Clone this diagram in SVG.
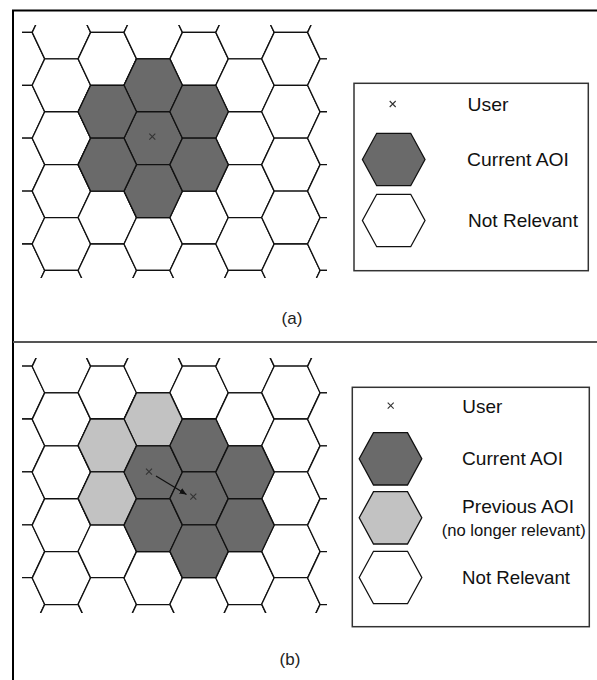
<svg xmlns="http://www.w3.org/2000/svg" xmlns:xlink="http://www.w3.org/1999/xlink" width="597" height="680" viewBox="0 0 597 680">
<defs>
<style>
.grid{fill:#fff;stroke:#111;stroke-width:1.3;stroke-linejoin:miter}
.dark{fill:#6a6a6a;stroke:#111;stroke-width:1.3}
.light{fill:#c2c2c2;stroke:#111;stroke-width:1.3}
.lbl{font-family:"Liberation Sans",Arial,sans-serif;font-size:19px;fill:#111}
.small{font-size:16.5px}
.cap{font-family:"Liberation Sans",Arial,sans-serif;font-size:17px;fill:#222;text-anchor:middle}
.mark{stroke:#333;stroke-width:1.1;fill:none}
.legend{fill:none;stroke:#333;stroke-width:1.5}
.frame{fill:none;stroke:#000;stroke-width:2}
.divider{stroke:#555;stroke-width:2}
.arrow{stroke:#111;stroke-width:1.2;fill:none}
</style>
<polygon id="hex" points="-29.2,0 -16.7,-26.45 16.7,-26.45 29.2,0 16.7,26.45 -16.7,26.45"/>
<polygon id="lhex" points="-31.3,0 -17,-26.2 17,-26.2 31.3,0 17,26.2 -17,26.2"/>
<path id="xm" d="M-3,-3L3,3M-3,3L3,-3"/>
<g id="col">
<use href="#hex" y="0"/>
<use href="#hex" y="52.9"/>
<use href="#hex" y="105.8"/>
<use href="#hex" y="158.7"/>
<use href="#hex" y="211.6"/>
<use href="#hex" y="264.5"/>
</g>
<clipPath id="clipA"><rect x="22" y="25" width="305" height="253"/></clipPath>
<clipPath id="clipB"><rect x="22" y="358" width="305" height="255"/></clipPath>
<marker id="ah" markerWidth="8" markerHeight="8" refX="7" refY="4" orient="auto" markerUnits="userSpaceOnUse"><path d="M0,0.8 L7,4 L0,7.2 Z" fill="#111"/></marker>
</defs>
<rect x="0" y="0" width="597" height="680" fill="#fff"/>

<g id="frame">
<path class="frame" d="M13,680 V10.5 H597"/>
<line class="divider" x1="13" y1="342" x2="597" y2="342"/>
</g>

<g id="panel-a">
<g id="grid-a" clip-path="url(#clipA)" class="grid">
<use href="#col" x="15.5" y="5.95"/>
<use href="#col" x="61.4" y="32.4"/>
<use href="#col" x="107.3" y="5.95"/>
<use href="#col" x="153.2" y="32.4"/>
<use href="#col" x="199.1" y="5.95"/>
<use href="#col" x="245.0" y="32.4"/>
<use href="#col" x="290.9" y="5.95"/>
<use href="#col" x="336.8" y="32.4"/>
</g>
<g id="aoi-a" class="dark">
<use href="#hex" x="153.2" y="85.3"/>
<use href="#hex" x="153.2" y="138.2"/>
<use href="#hex" x="153.2" y="191.1"/>
<use href="#hex" x="107.3" y="111.75"/>
<use href="#hex" x="107.3" y="164.65"/>
<use href="#hex" x="199.1" y="111.75"/>
<use href="#hex" x="199.1" y="164.65"/>
</g>
<g id="user-a"><use href="#xm" class="mark" x="152.3" y="136.7"/></g>
<text class="cap" x="292" y="324">(a)</text>
</g>

<g id="legend-a">
<rect class="legend" x="354" y="83.3" width="234.3" height="187.4"/>
<g id="legend-a-user"><use href="#xm" class="mark" x="392.7" y="104"/><text class="lbl" x="467.5" y="111" textLength="41" lengthAdjust="spacingAndGlyphs">User</text></g>
<g id="legend-a-current"><use href="#lhex" class="dark" x="393.7" y="159.5"/><text class="lbl" x="467" y="166" textLength="102" lengthAdjust="spacingAndGlyphs">Current AOI</text></g>
<g id="legend-a-notrel"><use href="#lhex" class="grid" x="393.7" y="220.5"/><text class="lbl" x="468" y="226.5" textLength="110" lengthAdjust="spacingAndGlyphs">Not Relevant</text></g>
</g>

<g id="panel-b">
<g id="grid-b" clip-path="url(#clipB)" class="grid">
<use href="#col" x="15.5" y="339.65"/>
<use href="#col" x="61.4" y="366.5"/>
<use href="#col" x="107.3" y="339.65"/>
<use href="#col" x="153.2" y="366.5"/>
<use href="#col" x="199.1" y="339.65"/>
<use href="#col" x="245.0" y="366.5"/>
<use href="#col" x="290.9" y="339.65"/>
<use href="#col" x="336.8" y="366.5"/>
</g>
<g id="prev-aoi-b" class="light">
<use href="#hex" x="153.2" y="419.4"/>
<use href="#hex" x="107.3" y="445.45"/>
<use href="#hex" x="107.3" y="498.35"/>
</g>
<g id="aoi-b" class="dark">
<use href="#hex" x="153.2" y="472.3"/>
<use href="#hex" x="153.2" y="525.2"/>
<use href="#hex" x="199.1" y="445.45"/>
<use href="#hex" x="199.1" y="498.35"/>
<use href="#hex" x="199.1" y="551.25"/>
<use href="#hex" x="245.0" y="472.3"/>
<use href="#hex" x="245.0" y="525.2"/>
</g>
<g id="user-b-old"><use href="#xm" class="mark" x="149" y="471.7"/></g>
<g id="user-b-new"><use href="#xm" class="mark" x="193.3" y="496.7"/></g>
<text class="cap" x="290" y="665">(b)</text>
</g>

<g id="connectors">
<line class="arrow" x1="156" y1="476" x2="186.5" y2="494.5" marker-end="url(#ah)"/>
</g>

<g id="legend-b">
<rect class="legend" x="352.3" y="387.3" width="237" height="239.4"/>
<g id="legend-b-user"><use href="#xm" class="mark" x="390.7" y="405.7"/><text class="lbl" x="462.3" y="413.3" textLength="40" lengthAdjust="spacingAndGlyphs">User</text></g>
<g id="legend-b-current"><use href="#lhex" class="dark" x="390.5" y="458.8"/><text class="lbl" x="462" y="465.3" textLength="101" lengthAdjust="spacingAndGlyphs">Current AOI</text></g>
<g id="legend-b-prev"><use href="#lhex" class="light" x="390.5" y="517.8"/><text class="lbl" x="462" y="512.7" textLength="112" lengthAdjust="spacingAndGlyphs">Previous AOI</text><text class="lbl small" x="441.7" y="535.5" textLength="144" lengthAdjust="spacingAndGlyphs">(no longer relevant)</text></g>
<g id="legend-b-notrel"><use href="#lhex" class="grid" x="390.5" y="577.5"/><text class="lbl" x="462" y="583.8" textLength="108" lengthAdjust="spacingAndGlyphs">Not Relevant</text></g>
</g>
</svg>
